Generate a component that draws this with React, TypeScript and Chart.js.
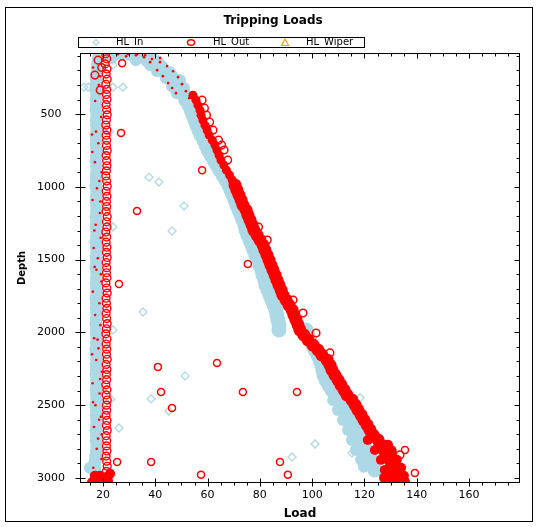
import { useEffect, useRef } from 'react';
import { Chart, registerables } from 'chart.js';

Chart.register(...registerables);

const FONT = '"DejaVu Sans", sans-serif';
const LIGHT_BLUE = '#add8e6';
const RED = '#ff0000';
const ORANGE = '#ffa500';

const title = 'Tripping Loads';
const seriesNames = ['HL_In', 'HL_Out', 'HL_Wiper'];
const xMajorTicks = [20, 40, 60, 80, 100, 120, 140, 160];
const yMajorTicks = [500, 1000, 1500, 2000, 2500, 3000];

type P = [number, number]; // [load, depth]

// Depths sampled along the near-surface (low load) columns
const surfDepth = [
  85, 120, 155, 190, 225, 260, 295, 330, 365, 400,
  435, 470, 505, 540, 575, 610, 645, 680, 715, 750,
  785, 820, 855, 890, 925, 960, 995, 1030, 1065, 1100,
  1135, 1170, 1205, 1240, 1275, 1310, 1345, 1380, 1415, 1450,
  1485, 1520, 1555, 1590, 1625, 1660, 1695, 1730, 1765, 1800,
  1835, 1870, 1905, 1940, 1975, 2010, 2045, 2080, 2115, 2150,
  2185, 2220, 2255, 2290, 2325, 2360, 2395, 2430, 2465, 2500,
  2535, 2570, 2605, 2640, 2675, 2710, 2745, 2780, 2815, 2850,
  2885, 2920, 2955, 2990, 3025,
];

// HL_In loads in the low-load column (first 83 depths)
const inSurfLoad = [
  18.6, 18.2, 17.9, 17.8, 17.6, 17.5, 17.3, 17.2, 17.6, 17.4,
  17.5, 17.3, 17.6, 17.4, 17.5, 17.7, 17.3, 17.5, 17.4, 17.6,
  17.5, 17.3, 17.5, 17.6, 17.4, 17.5, 17.3, 17.6, 17.5, 17.4,
  17.6, 17.5, 17.3, 17.5, 17.4, 17.6, 17.5, 17.3, 17.5, 17.6,
  17.4, 17.5, 17.3, 17.6, 17.5, 17.4, 17.5, 17.6, 17.3, 17.5,
  17.4, 17.6, 17.5, 17.3, 17.5, 17.4, 17.6, 17.5, 17.3, 17.5,
  17.6, 17.4, 17.5, 17.3, 17.6, 17.5, 17.4, 17.5, 17.6, 17.3,
  17.5, 17.4, 17.6, 17.5, 17.3, 17.5, 17.4, 17.6, 17.5, 17.2,
  17.0, 16.8, 16.9,
];

// HL_Out loads in the low-load column
const outSurfLoad = [
  21.0, 21.4, 20.8, 21.5, 21.2, 21.6, 21.1, 21.4, 21.3, 21.5,
  21.2, 21.4, 21.6, 21.3, 21.1, 21.5, 21.2, 21.4, 21.3, 21.6,
  21.2, 21.4, 21.5, 21.3, 21.1, 21.4, 21.6, 21.2, 21.5, 21.3,
  21.4, 21.2, 21.6, 21.3, 21.5, 21.1, 21.4, 21.2, 21.5, 21.3,
  21.6, 21.2, 21.4, 21.3, 21.5, 21.1, 21.4, 21.6, 21.2, 21.3,
  21.5, 21.2, 21.4, 21.6, 21.3, 21.1, 21.5, 21.2, 21.4, 21.3,
  21.6, 21.2, 21.5, 21.3, 21.4, 21.1, 21.5, 21.2, 21.6, 21.3,
  21.4, 21.2, 21.5, 21.3, 21.6, 21.2, 21.4, 21.3, 21.5, 21.2,
  21.4, 21.6, 21.3, 21.5, 21.2,
];

// HL_In main trend (two branches)
const inCurve: P[] = [
  [33.4, 95], [37.2, 129], [40.3, 163], [42.9, 198], [45.6, 232], [47.2, 266], [48.7, 301], [50.2, 335],
  [51.0, 370], [51.7, 404], [52.9, 438], [53.7, 473], [54.4, 507], [55.2, 541], [55.9, 576], [56.7, 610],
  [57.5, 644], [58.6, 679], [59.4, 713], [60.2, 747], [61.3, 782], [62.4, 816], [63.6, 850], [64.7, 885],
  [65.9, 919], [67.0, 953], [68.2, 988], [68.9, 1022], [69.7, 1056], [70.5, 1091], [71.2, 1125], [72.0, 1159],
  [72.8, 1194], [73.5, 1228], [74.3, 1262], [74.7, 1297], [75.4, 1331], [76.2, 1365], [77.0, 1400], [77.7, 1434],
  [78.5, 1468], [79.3, 1503], [80.0, 1537], [80.8, 1571], [81.2, 1606], [81.9, 1640], [82.3, 1674], [83.1, 1709],
  [83.9, 1743], [84.6, 1777], [85.4, 1812], [86.2, 1846], [86.5, 1880], [86.9, 1915], [87.3, 1949], [87.3, 1983],
  [97.6, 1983], [98.4, 2018], [99.2, 2052], [100.3, 2087], [101.1, 2121], [102.2, 2155], [103.0, 2190], [103.7, 2224],
  [104.1, 2258], [104.5, 2293], [105.3, 2327], [106.4, 2361], [107.6, 2396], [109.1, 2430], [111.0, 2464], [112.5, 2499],
  [113.3, 2533], [114.1, 2567], [115.2, 2602], [116.4, 2636], [117.1, 2670], [117.9, 2705], [119.0, 2739], [119.8, 2773],
  [120.6, 2808], [121.3, 2842], [122.5, 2876], [123.3, 2911], [124.0, 2945],
];

// HL_In wide parts of the band (top of hole bend and bottom spread)
const inBandExtra: P[] = [
  [25.4, 88], [28.0, 88], [30.7, 95], [36.1, 95], [38.7, 109], [32.6, 129], [41.0, 136], [38.0, 163],
  [42.6, 170], [40.7, 205], [45.6, 212], [44.1, 253], [49.4, 266], [46.4, 308], [51.0, 321], [48.3, 356],
  [52.5, 376], [21.9, 95], [23.4, 115], [15.0, 2931],
  [108.0, 2464], [109.9, 2533], [111.8, 2602], [113.7, 2670], [115.2, 2739], [116.7, 2808], [118.7, 2876], [119.8, 2924],
];

// HL_In scattered points
const inOutliers: P[] = [
  [23.8, 163], [23.8, 315], [27.6, 315], [12.7, 315], [14.3, 315], [37.6, 933], [41.4, 967], [51.0, 1132],
  [46.4, 1304], [23.8, 1276], [35.3, 1860], [23.8, 1983], [51.4, 2299], [38.4, 2457], [45.2, 2540], [26.1, 2657],
  [92.3, 2856], [101.1, 2767], [115.2, 2828], [118.3, 2450], [22.5, 620], [23.0, 2460], [54.4, 370],
];

// HL_Out main trend, upper (thinner) part
const outCurveUpper: P[] = [
  [54.4, 370], [55.6, 404], [56.3, 438], [57.1, 473], [57.5, 507], [58.2, 541], [59.0, 576], [59.8, 610],
  [60.6, 644], [61.8, 679], [62.8, 713], [63.6, 747], [64.4, 782], [65.1, 816], [66.2, 850], [67.2, 885],
  [68.4, 919], [69.4, 953],
];

// HL_Out main trend, lower part
const outCurve: P[] = [
  [70.5, 988], [71.2, 1022], [72.0, 1056], [72.8, 1091], [73.5, 1125], [74.7, 1159],
  [75.4, 1194], [76.2, 1228], [77.0, 1262], [77.7, 1297], [78.9, 1331], [80.0, 1365], [81.2, 1400], [81.9, 1434],
  [82.7, 1468], [83.5, 1503], [84.2, 1537], [85.0, 1571], [85.8, 1606], [86.5, 1640], [87.3, 1674], [88.1, 1709],
  [88.8, 1743], [90.0, 1777], [91.1, 1812], [92.3, 1846], [93.0, 1880], [93.8, 1915], [94.6, 1949], [95.3, 1983],
  [96.8, 2018], [98.4, 2052], [100.3, 2087], [102.2, 2121], [103.7, 2155], [105.7, 2190], [106.8, 2224], [107.6, 2258],
  [108.7, 2293], [109.9, 2327], [111.0, 2361], [112.2, 2396], [113.3, 2430], [115.2, 2464], [116.4, 2499], [117.5, 2533],
  [118.7, 2567], [119.8, 2602], [121.0, 2636], [122.1, 2670], [123.3, 2705], [125.2, 2739], [126.3, 2773], [127.5, 2808],
  [128.6, 2842], [129.8, 2876], [130.5, 2911], [131.3, 2945], [131.7, 2979], [132.4, 3014], [132.8, 3030],
];

// HL_Out dense clusters at the bottom of the hole
const outBottom: P[] = [
  [121.3, 2739], [124.0, 2808], [126.3, 2876], [127.8, 2945], [129.0, 2999], [129.8, 3030], [129.0, 2773],
  [130.5, 2822], [132.4, 2876], [134.0, 2931], [135.1, 2986], [135.5, 3027], [133.6, 2960], [127.5, 3000],
  [16.9, 2986], [18.9, 2986], [20.8, 3000], [16.9, 3020], [18.9, 3020], [21.9, 3020], [22.7, 2972], [15.8, 3030],
];

// HL_Out small specks inside the HL_In column and along the bend
const outSpecks: P[] = [
  [16.2, 180], [18.9, 240], [17.0, 410], [19.3, 520], [15.8, 640], [18.2, 700], [16.9, 830], [19.5, 900],
  [17.7, 1010], [16.0, 1090], [18.8, 1180], [17.2, 1260], [19.1, 1350], [16.4, 1420], [18.0, 1490], [17.5, 1570],
  [19.4, 1650], [16.1, 1720], [18.6, 1800], [17.0, 1880], [19.0, 1950], [16.6, 2040], [18.3, 2110], [17.4, 2190],
  [19.6, 2270], [16.0, 2350], [18.7, 2420], [17.1, 2500], [19.2, 2580], [16.5, 2650], [18.1, 2730], [17.6, 2800],
  [19.4, 2870], [16.3, 2930], [18.5, 2600], [17.9, 2050], [16.8, 1550], [19.0, 1100], [17.3, 620], [18.4, 300],
  [15.9, 760], [18.6, 960], [16.7, 1300], [19.2, 1600], [15.8, 2150], [18.9, 2320], [16.2, 2480], [19.5, 2700],
  [38.0, 143], [40.7, 198], [42.9, 239], [44.9, 287], [46.4, 321], [47.9, 356], [25.7, 88], [28.8, 102],
  [33.0, 88], [36.1, 95], [41.8, 115],
  [29.6, 88], [32.6, 95], [35.7, 109], [38.7, 122], [41.8, 143], [44.5, 170], [46.8, 205], [48.7, 246],
  [50.2, 294], [51.7, 342], [52.9, 390],
];

// HL_Out open circles along the edges of the trend
const outEdge: P[] = [
  [57.9, 404], [58.8, 459], [59.6, 507], [60.8, 555], [62.1, 610], [64.2, 679], [65.4, 713], [66.3, 747],
  [67.7, 816], [79.5, 1276], [82.8, 1365], [18.1, 129], [16.9, 232], [18.9, 335], [19.5, 180],
  [92.7, 1777], [96.5, 1867], [101.5, 2004], [106.8, 2141], [130.5, 2808], [133.6, 2842],
];

// HL_Out scattered points
const outOutliers: P[] = [
  [27.3, 150], [26.9, 630], [33.0, 1166], [57.9, 885], [26.1, 1668], [75.4, 1530], [41.0, 2237], [63.6, 2210],
  [42.2, 2409], [73.5, 2409], [94.2, 2409], [46.4, 2519], [25.4, 2890], [38.4, 2890], [87.7, 2890], [57.5, 2979],
  [90.7, 2979], [139.3, 2966], [135.5, 2808],
];

const wiperPoints: P[] = [];

const toPts = (arr: P[]) => arr.map(([x, y]) => ({ x, y }));
const zip = (loads: number[], depths: number[]) => loads.map((x, i) => ({ x, y: depths[i] }));

const decoPlugin = {
  id: 'deco',
  afterDraw(chart: any) {
    const { ctx, chartArea: a, scales } = chart;
    const xs = scales.x;
    const ys = scales.y;
    ctx.save();
    ctx.strokeStyle = '#000';
    ctx.lineWidth = 1;
    // outer frame
    ctx.strokeRect(5.5, 7.5, 527, 514);
    // plot frame
    const L = Math.round(a.left) + 0.5;
    const R = Math.round(a.right) - 0.5;
    const T = Math.round(a.top) + 0.5;
    const B = Math.round(a.bottom) - 0.5;
    ctx.strokeRect(L, T, R - L, B - T);
    ctx.beginPath();
    for (let v = 15; v <= 175; v += 5) {
      const px = Math.round(xs.getPixelForValue(v)) + 0.5;
      const major = xMajorTicks.includes(v);
      ctx.moveTo(px, major ? B - 4 : B);
      ctx.lineTo(px, B + (major ? 4 : 3));
      ctx.moveTo(px, T);
      ctx.lineTo(px, T + (major ? 5 : 3));
    }
    for (let v = 100; v <= 3000; v += 100) {
      const py = Math.round(ys.getPixelForValue(v)) + 0.5;
      const major = yMajorTicks.includes(v);
      ctx.moveTo(major ? L - 5 : L - 3, py);
      ctx.lineTo(major ? L + 5 : L, py);
      ctx.moveTo(R, py);
      ctx.lineTo(R - (major ? 5 : 3), py);
    }
    ctx.stroke();

    // title
    ctx.fillStyle = '#000';
    ctx.font = `bold 12px ${FONT}`;
    ctx.textAlign = 'center';
    ctx.textBaseline = 'middle';
    ctx.fillText(title, 273, 21);

    // legend
    ctx.strokeRect(78.5, 37.5, 286, 10);
    ctx.font = `10px ${FONT}`;
    ctx.textAlign = 'left';
    ctx.fillText(seriesNames[0], 116, 42.5);
    ctx.fillText(seriesNames[1], 213, 42.5);
    ctx.fillText(seriesNames[2], 306, 42.5);
    ctx.lineWidth = 1.2;
    ctx.strokeStyle = LIGHT_BLUE;
    ctx.beginPath();
    ctx.moveTo(96, 39.5); ctx.lineTo(99, 42.5); ctx.lineTo(96, 45.5); ctx.lineTo(93, 42.5); ctx.closePath();
    ctx.stroke();
    ctx.strokeStyle = RED;
    ctx.lineWidth = 1.5;
    ctx.beginPath();
    ctx.ellipse(191, 42.5, 3.5, 2.8, 0, 0, Math.PI * 2);
    ctx.stroke();
    ctx.strokeStyle = ORANGE;
    ctx.lineWidth = 1.2;
    ctx.beginPath();
    ctx.moveTo(285, 39); ctx.lineTo(288.5, 45.5); ctx.lineTo(281.5, 45.5); ctx.closePath();
    ctx.stroke();
    ctx.restore();
  },
};

export default function App() {
  const ref = useRef<HTMLCanvasElement>(null);
  useEffect(() => {
    const filled = (color: string, r: number) => ({
      pointStyle: 'circle', pointRadius: r, pointHoverRadius: r, pointBorderWidth: 0,
      pointBackgroundColor: color, pointBorderColor: color, backgroundColor: color, borderColor: color,
    });
    const hollow = (color: string, r: number, style: string, bw: number) => ({
      pointStyle: style, pointRadius: r, pointHoverRadius: r, pointBorderWidth: bw,
      pointBackgroundColor: 'rgba(0,0,0,0)', pointBorderColor: color, backgroundColor: 'rgba(0,0,0,0)', borderColor: color,
    });
    const chart = new Chart(ref.current as HTMLCanvasElement, {
      type: 'scatter',
      data: {
        datasets: [
          { label: 'HL_Out', data: zip(outSurfLoad, surfDepth), order: 1, ...hollow(RED, 3.9, 'circle', 1.4) },
          { label: 'HL_Out', data: toPts(outSpecks), order: 1, ...filled(RED, 1.3) },
          { label: 'HL_Out', data: toPts(outCurveUpper), order: 1, ...filled(RED, 4.5) },
          { label: 'HL_Out', data: toPts(outCurve), order: 1, ...filled(RED, 6.5) },
          { label: 'HL_Out', data: toPts(outBottom), order: 1, ...filled(RED, 5) },
          { label: 'HL_Out', data: toPts(outEdge), order: 1, ...hollow(RED, 3.8, 'circle', 1.5) },
          { label: 'HL_Out', data: toPts(outOutliers), order: 1, ...hollow(RED, 3.5, 'circle', 1.5) },
          { label: 'HL_In', data: zip(inSurfLoad, surfDepth), order: 2, ...filled(LIGHT_BLUE, 6.5) },
          { label: 'HL_In', data: toPts(inCurve), order: 2, ...filled(LIGHT_BLUE, 7.5) },
          { label: 'HL_In', data: toPts(inBandExtra), order: 2, ...filled(LIGHT_BLUE, 6) },
          { label: 'HL_In', data: toPts(inOutliers), order: 2, ...hollow(LIGHT_BLUE, 4, 'rectRot', 1.3) },
          { label: 'HL_Wiper', data: toPts(wiperPoints), order: 3, ...hollow(ORANGE, 4, 'triangle', 1.3) },
        ] as any,
      },
      options: {
        animation: false,
        responsive: false,
        devicePixelRatio: 1,
        events: [],
        layout: { padding: { top: 53, right: 19, left: 0, bottom: 0 } },
        plugins: { legend: { display: false }, title: { display: false }, tooltip: { enabled: false } },
        scales: {
          x: {
            type: 'linear', position: 'bottom', min: 11.2, max: 179.5,
            afterFit: (s: any) => { s.height = 44; },
            afterBuildTicks: (s: any) => { s.ticks = xMajorTicks.map((value) => ({ value })); },
            grid: { display: false, drawTicks: false },
            border: { display: false },
            ticks: {
              padding: 6, color: '#000', autoSkip: false, maxRotation: 0,
              font: { family: FONT, size: 11 },
              callback: (v: any) => String(v),
            },
            title: { display: true, text: 'Load', color: '#000', font: { family: FONT, size: 12, weight: 'bold' }, padding: { top: 0, bottom: 6 } },
          },
          y: {
            type: 'linear', reverse: true, min: 80, max: 3035,
            afterFit: (s: any) => { s.width = 80; },
            afterBuildTicks: (s: any) => { s.ticks = yMajorTicks.map((value) => ({ value })); },
            grid: { display: false, drawTicks: false },
            border: { display: false },
            ticks: {
              padding: 15, crossAlign: 'center', color: '#000', autoSkip: false,
              font: { family: FONT, size: 11 },
              callback: (v: any) => String(v),
            },
            title: { display: true, text: 'Depth', color: '#000', font: { family: FONT, size: 10, weight: 'bold' }, padding: { top: 16, bottom: 0 } },
          },
        },
      } as any,
      plugins: [decoPlugin],
    });
    return () => chart.destroy();
  }, []);
  return (
    <div style={{ position: 'absolute', left: 0, top: 0, width: 539, height: 527, background: '#fff' }}>
      <canvas ref={ref} width={539} height={527} style={{ display: 'block', width: 539, height: 527 }} />
    </div>
  );
}
